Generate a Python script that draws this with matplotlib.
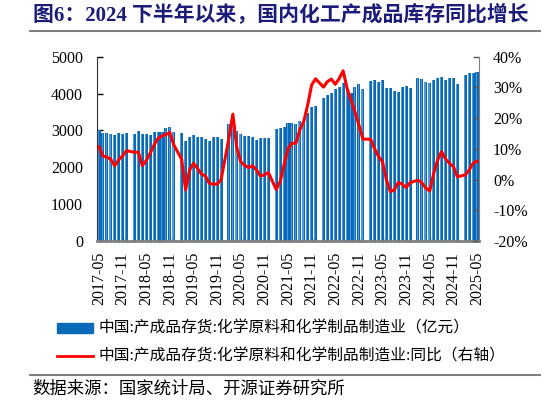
import numpy as np
import pandas as pd
import matplotlib
matplotlib.use("Agg")
import matplotlib.pyplot as plt
from matplotlib.patches import Rectangle
from matplotlib.lines import Line2D

plt.rcParams['font.family'] = ['Liberation Serif', 'Noto Sans CJK SC']

# monthly data 2017-05 .. 2025-05 (January not published -> None)
months = pd.period_range('2017-05', '2025-05', freq='M').strftime('%Y-%m').tolist()

inventory = [
    3008, 2919, 2919, 2890, 2864, 2919, 2900, 2919,                          # 2017-05..12
    None, 2890, 2981, 2890, 2900, 2880, 2945, 2970, 2955, 3070, 3097, 2970,  # 2018
    None, 2919, 2710, 2810, 2885, 2827, 2835, 2772, 2718, 2818, 2820, 2764,  # 2019
    None, 3165, 3150, 2975, 2915, 2854, 2846, 2818, 2742, 2782, 2800, 2782,  # 2020
    None, 3027, 3054, 3081, 3195, 3189, 3162, 3261, 3230, 3460, 3640, 3667,  # 2021
    None, 3866, 3957, 4002, 4137, 4183, 4273, 4137, 4020, 4183, 4246, 4137,  # 2022
    None, 4345, 4363, 4318, 4363, 4155, 4155, 4065, 4029, 4183, 4200, 4155,  # 2023
    None, 4435, 4408, 4318, 4300, 4363, 4435, 4462, 4363, 4435, 4426, 4255,  # 2024
    None, 4517, 4571, 4571, 4589,                                            # 2025
]

yoy = [
    10.7, 7.7, 7.3, 6.6, 4.5, 6.4, 7.7, 9.4,
    None, 8.9, 8.9, 4.5, 6.2, 8.5, 11.3, 13.4, 14.2, 14.7, 15.3, 11.3,
    None, 6.6, -3.4, 3.1, 5.3, 3.7, 1.8, 1.2, -1.2, -1.5, -1.5, -0.1,
    None, 13.5, 21.3, 10.4, 5.8, 4.6, 3.9, 4.5, 3.1, 1.2, 1.5, 2.3,
    None, -3.2, -0.7, 4.8, 10.0, 11.8, 11.8, 16.2, 18.9, 24.3, 30.8, 32.8,
    None, 30.1, 31.9, 32.7, 31.0, 32.9, 35.4, 29.7, 25.9, 22.1, 17.8, 13.2,
    None, 13.1, 10.0, 7.5, 5.8, -0.1, -3.9, -3.4, -0.9, -1.5, -2.6, -1.0,
    None, -0.2, -1.1, -2.8, -3.7, 2.0, 6.4, 9.1, 6.7, 5.3, 4.2, 0.9,
    None, 1.5, 3.1, 5.3, 6.0,
]

tick_labels = months[::6]

bar_label = '中国:产成品存货:化学原料和化学制品制造业（亿元）'
line_label = '中国:产成品存货:化学原料和化学制品制造业:同比（右轴）'
title = '图6：2024 下半年以来，国内化工产成品库存同比增长'
source = '数据来源：国家统计局、开源证券研究所'

W, H = 546, 405
fig = plt.figure(figsize=(W / 100, H / 100), dpi=100)
ax = fig.add_axes([97 / W, 1 - 241 / H, (479 - 97) / W, (241 - 56.7) / H])

x = np.arange(len(months))
inv = np.array(inventory, dtype=float)
ax.bar(x, inv, width=0.78, color='#0a69b9', zorder=2)
ax.bar(x - 0.2, inv, width=0.28, color='#4f9bd8', zorder=2)

ax.set_xlim(-0.5, len(months) - 0.5)
ax.set_ylim(0, 5000)
ax.set_yticks(range(0, 5001, 1000))
ax.set_xticks(x[::6])
ax.set_xticklabels(tick_labels, rotation=90, fontsize=11.5)
ax.tick_params(axis='x', direction='in', length=3, width=1, color='#333333', pad=8)
ax.tick_params(axis='y', direction='in', length=4, width=1, labelsize=11.5, pad=10)

ax.spines['top'].set_visible(False)
ax.spines['left'].set_color('#333333')
ax.spines['right'].set_visible(False)
ax.spines['bottom'].set_color('#808080')
ax.spines['bottom'].set_linewidth(2)

ax2 = ax.twinx()
y2 = np.array(yoy, dtype=float)
ok = ~np.isnan(y2)
ax2.plot(x[ok], y2[ok] / 100, color='#ff0000', lw=2.2, zorder=3)
ax2.set_ylim(-0.2, 0.4)
ax2.set_yticks(np.arange(-0.2, 0.41, 0.1))
ax2.set_yticklabels([f'{v}%' for v in range(-20, 41, 10)])
ax2.tick_params(axis='y', direction='in', length=4, width=1, labelsize=11.5, pad=10,
                color='#555555')
ax2.spines['top'].set_visible(False)
ax2.spines['left'].set_visible(False)
ax2.spines['bottom'].set_visible(False)
ax2.spines['right'].set_color('#808080')

# title and rules
fig.text(33 / W, 1 - 15 / H, title, fontsize=15, fontweight='bold',
         color='#1c1c78', va='center', ha='left')
fig.lines.append(Line2D([30 / W, 540 / W], [1 - 30.5 / H] * 2, transform=fig.transFigure,
                        color='#808080', lw=1.5))
fig.lines.append(Line2D([30 / W, 540 / W], [1 - 375 / H] * 2, transform=fig.transFigure,
                        color='#808080', lw=1.5))

# legend
fig.patches.append(Rectangle((57 / W, 1 - 333 / H), 36 / W, 10 / H, transform=fig.transFigure,
                             color='#0a69b9'))
fig.lines.append(Line2D([57 / W, 93 / W], [1 - 356 / H] * 2, transform=fig.transFigure,
                        color='#ff0000', lw=2))
fig.text(99 / W, 1 - 328 / H, bar_label, fontsize=11.3, va='center', ha='left')
fig.text(99 / W, 1 - 356 / H, line_label, fontsize=11.3, va='center', ha='left')

fig.text(32 / W, 1 - 390 / H, source, fontsize=12.5, va='center', ha='left')

fig.savefig('out.png', dpi=100)
